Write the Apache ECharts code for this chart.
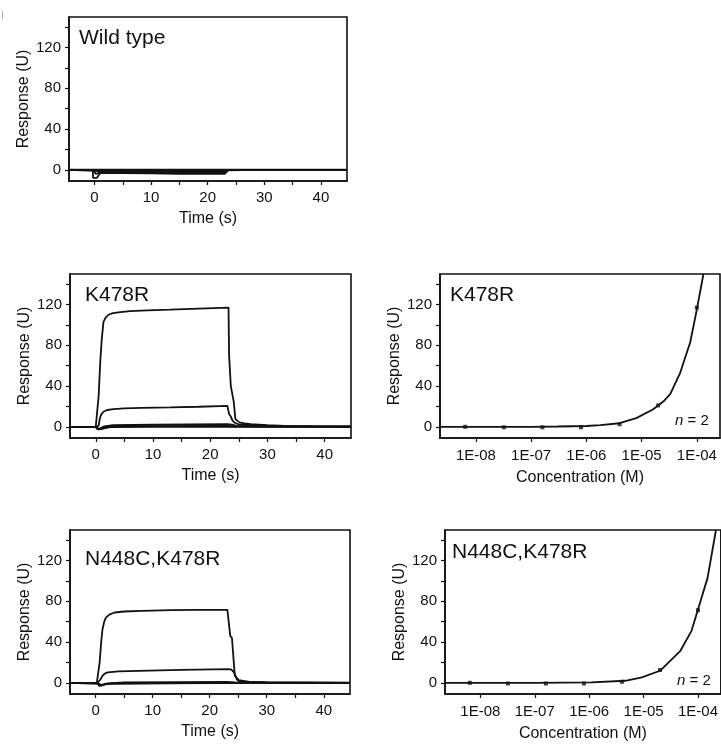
<!DOCTYPE html>
<html>
<head>
<meta charset="utf-8">
<script src="https://cdn.jsdelivr.net/npm/echarts@6/dist/echarts.min.js"></script>
<style>
  html, body { margin: 0; padding: 0; background: #fff; }
  #chart { width: 721px; height: 744px; }
</style>
</head>
<body>
<div id="chart"></div>
<script>
// ---- Axis ticks ----
const timeTicks = [0, 5, 10, 15, 20, 25, 30, 35, 40];
const timeTickLabels = [0, 10, 20, 30, 40];
const respTicks = [0, 20, 40, 60, 80, 100, 120, 140];
const respTickLabels = [0, 40, 80, 120];

// ---- Sensorgrams: [time (s), response (U)] ----
// Wild type
const wtTraceA = [[-4.5,0],[-0.3,0],[-0.25,-8],[0.4,-8],[1.0,-3.3],[5,-3.3],[9.8,-3.6],[15,-3.9],[23,-3.9],[23.6,-0.5],[26,-0.2],[44.6,0]];
const wtTraceB = [[-4.5,0],[-0.2,0],[0.2,-4],[0.8,-3],[1.5,-2.3],[9.8,-2.3],[20,-2.2],[23,-2.3],[23.5,-0.3],[44.6,0]];
const wtTraceC = [[-4.5,0],[0.2,-1],[1,-1.6],[10,-1.6],[23,-1.5],[23.5,0],[44.6,0]];
const wtTraceD = [[-4.5,0],[0,0],[1,-0.4],[23,-0.4],[24,0],[44.6,0]];
const wtTraceE = [[-4.5,0.2],[44.6,0.2]];

// K478R
const k478rTraceA = [[-4.5,0],[0,0],[0.2,0.5],[0.5,30],[0.8,65],[1.05,86],[1.35,103],[1.7,107],[2.2,110],[3,111.5],[4.3,112.5],[6,113.5],[9,114.3],[13,115],[18,116],[23.2,117],[23.3,70],[23.6,40],[23.9,39],[24.1,25],[24.4,7.5],[25.1,4.3],[26,3.3],[27.1,2.7],[30,1.6],[33,1],[38,0.6],[44.6,0.3]];
const k478rTraceB = [[-4.5,0],[0,0],[0.3,-1],[0.5,1],[0.75,9],[1.0,12.5],[1.35,14.8],[2,16.5],[3.1,17.4],[5,18],[8,18.5],[13,19],[18,19.7],[23,20.6],[23.1,20.4],[23.3,12.5],[23.6,10],[23.9,6],[24.3,4],[24.8,2.7],[25.5,2],[27,1.5],[30,1],[35,0.6],[44.6,0.3]];
const k478rTraceC = [[-4.5,0],[0,0],[0.3,-2],[0.8,-1.5],[1.5,0.5],[3,1.5],[10,2],[23,2.7],[23.8,2.2],[24.6,1],[26,0.7],[30,0.4],[44.6,0.2]];
const k478rTraceD = [[-4.5,0],[0,0],[0.3,-2.5],[1,-2],[2,0],[5,0.6],[23,1],[24,0.5],[30,0.2],[44.6,0]];
const k478rTraceE = [[-4.5,0],[0.2,0],[0.5,-2.5],[1.2,-1.8],[2.5,-0.3],[10,0],[23,0.3],[25,0],[44.6,0]];

// N448C,K478R
const n448cTraceA = [[-4.5,0],[0.2,0],[0.4,-1],[0.7,20],[1.0,42],[1.2,52.6],[1.5,60],[1.8,64],[2.4,67],[3.3,69],[5,70],[8,70.7],[13.3,71.3],[18,71.5],[23.1,71.6],[23.6,46],[23.9,44],[24.4,7],[25.1,2.6],[27,1],[30,0.5],[35,0.3],[44.6,0.1]];
const n448cTraceB = [[-4.5,0],[0.3,0],[0.5,-1.5],[0.8,3],[1.2,6.9],[1.6,9],[2.1,10.2],[4,11.2],[7.5,11.8],[15,12.6],[23.3,13.4],[23.8,13],[24.3,10],[24.7,4],[25,1.8],[26,0.8],[30,0.3],[44.6,0]];
const n448cTraceC = [[-4.5,0],[0.3,0],[0.6,-3],[1.2,-2.5],[2,-0.5],[5,0.3],[23,0.8],[24.5,0.5],[30,0.1],[44.6,0]];
const n448cTraceD = [[-4.5,0],[0.4,0],[0.8,-2.8],[1.5,-1.5],[3,-0.5],[23,-0.2],[25,0],[44.6,0]];
const n448cTraceE = [[-4.5,0],[0.5,-1],[1,-2],[2,-1],[10,-0.5],[23,0],[44.6,0]];

// ---- Dose response ----
const concentrations = [6.4e-9, 3.2e-8, 1.6e-7, 8e-7, 4e-6, 2e-5, 1e-4];
const k478rResponse = [0, -0.5, -0.5, -0.5, 2.5, 21, 117];
const n448cResponse = [0, -0.7, -0.7, -0.7, 1, 12.5, 71.2];

// Fitted curves (concentration M, response U)
const k478rFitConc = [2.2e-9, 1e-7, 3e-7, 1e-6, 1.8e-6, 4e-6, 8e-6, 1.6e-5, 2.5e-5, 3.3e-5, 5e-5, 7.6e-5, 1e-4, 1.32e-4];
const k478rFitResp = [0, 0, 0.3, 0.8, 1.7, 3.5, 8.5, 17, 25, 32, 53, 83, 115, 150];
const n448cFitConc = [2.2e-9, 1e-7, 1.1e-6, 4.6e-6, 9.3e-6, 2e-5, 4.7e-5, 7.6e-5, 1e-4, 1.5e-4, 2.14e-4];
const n448cFitResp = [0, 0, 0.5, 2, 5.3, 11.8, 31, 51, 72, 103, 150];

// ---- Styling ----
const FONT = '"Liberation Sans", Arial, Helvetica, sans-serif';
const INK = '#111';
const grids = [
  { left: 69,  top: 17,  width: 278, height: 164 },
  { left: 70,  top: 274, width: 281, height: 164 },
  { left: 440, top: 274, width: 280, height: 164 },
  { left: 70,  top: 530, width: 280, height: 164 },
  { left: 445, top: 530, width: 278, height: 164 }
].map(g => Object.assign({ show: true, borderColor: INK, borderWidth: 1.6, backgroundColor: 'transparent' }, g));

function timeAxis(gridIndex) {
  return {
    type: 'value', gridIndex, min: -4.5, max: 44.6,
    name: 'Time (s)', nameLocation: 'middle', nameGap: 30,
    nameTextStyle: { fontSize: 16, color: INK, fontFamily: FONT },
    axisLine: { show: true, onZero: false, lineStyle: { color: INK, width: 1.6 } },
    axisTick: { show: true, length: 4, customValues: timeTicks, lineStyle: { color: INK, width: 1.2 } },
    axisLabel: { customValues: timeTickLabels, margin: 9, fontSize: 15, color: INK, fontFamily: FONT },
    splitLine: { show: false }
  };
}
function concAxis(gridIndex) {
  return {
    type: 'log', logBase: 10, gridIndex,
    min: Math.pow(10, -8.65), max: Math.pow(10, -3.58),
    name: 'Concentration (M)', nameLocation: 'middle', nameGap: 32,
    nameTextStyle: { fontSize: 16, color: INK, fontFamily: FONT },
    axisLine: { show: true, onZero: false, lineStyle: { color: INK, width: 1.6 } },
    axisTick: { show: true, length: 4, lineStyle: { color: INK, width: 1.2 } },
    axisLabel: {
      margin: 10, fontSize: 15, color: INK, fontFamily: FONT,
      showMinLabel: false, showMaxLabel: false,
      formatter: v => {
        const e = Math.round(Math.log10(v));
        return '1E' + (e < 0 ? '-' : '+') + String(Math.abs(e)).padStart(2, '0');
      }
    },
    splitLine: { show: false }
  };
}
function respAxis(gridIndex, nameGap) {
  return {
    type: 'value', gridIndex, min: -11, max: 150,
    name: 'Response (U)', nameLocation: 'middle', nameGap,
    nameTextStyle: { fontSize: 16, color: INK, fontFamily: FONT },
    axisLine: { show: true, onZero: false, lineStyle: { color: INK, width: 1.6 } },
    axisTick: { show: true, length: 4, customValues: respTicks, lineStyle: { color: INK, width: 1.2 } },
    axisLabel: { customValues: respTickLabels, margin: 8, fontSize: 15, color: INK, fontFamily: FONT },
    splitLine: { show: false }
  };
}

function trace(data, idx) {
  return {
    type: 'line', xAxisIndex: idx, yAxisIndex: idx, data,
    showSymbol: false, symbol: 'none', clip: true, animation: false,
    lineStyle: { color: INK, width: 1.8 }
  };
}
function pairs(xs, ys) { return xs.map((x, i) => [x, ys[i]]); }

const series = [
  ...[wtTraceA, wtTraceB, wtTraceC, wtTraceD, wtTraceE].map(d => trace(d, 0)),
  ...[k478rTraceA, k478rTraceB, k478rTraceC, k478rTraceD, k478rTraceE].map(d => trace(d, 1)),
  trace(pairs(k478rFitConc, k478rFitResp), 2),
  { type: 'scatter', xAxisIndex: 2, yAxisIndex: 2, data: pairs(concentrations, k478rResponse),
    symbol: 'rect', symbolSize: 4, itemStyle: { color: INK }, animation: false },
  ...[n448cTraceA, n448cTraceB, n448cTraceC, n448cTraceD, n448cTraceE].map(d => trace(d, 3)),
  trace(pairs(n448cFitConc, n448cFitResp), 4),
  { type: 'scatter', xAxisIndex: 4, yAxisIndex: 4, data: pairs(concentrations, n448cResponse),
    symbol: 'rect', symbolSize: 4, itemStyle: { color: INK }, animation: false }
];

function panelTitle(text, left, top) {
  return { text, left, top, padding: 0,
    textStyle: { fontSize: 21, fontWeight: 'normal', color: INK, fontFamily: FONT } };
}
function nLabel(left, top) {
  return { text: '{i|n} = 2', left, top, padding: 0,
    textStyle: { fontSize: 15, fontWeight: 'normal', color: INK, fontFamily: FONT,
      rich: { i: { fontStyle: 'italic', fontSize: 15, color: INK, fontFamily: FONT } } } };
}

const option = {
  animation: false,
  backgroundColor: '#fff',
  title: [
    panelTitle('Wild type', 79, 28),
    panelTitle('K478R', 85, 285),
    panelTitle('K478R', 450, 285),
    panelTitle('N448C,K478R', 85, 549),
    panelTitle('N448C,K478R', 452, 542),
    nLabel(675, 413),
    nLabel(677, 673)
  ],
  graphic: [
    { type: 'line', shape: { x1: 2.5, y1: 11, x2: 2.5, y2: 19 }, style: { stroke: '#aaa', lineWidth: 1 } }
  ],
  grid: grids,
  xAxis: [timeAxis(0), timeAxis(1), concAxis(2), timeAxis(3), concAxis(4)],
  yAxis: [respAxis(0, 37), respAxis(1, 33), respAxis(2, 30), respAxis(3, 36), respAxis(4, 36)],
  series
};

const chart = echarts.init(document.getElementById('chart'), null, { renderer: 'canvas' });
chart.setOption(option);
</script>
</body>
</html>
